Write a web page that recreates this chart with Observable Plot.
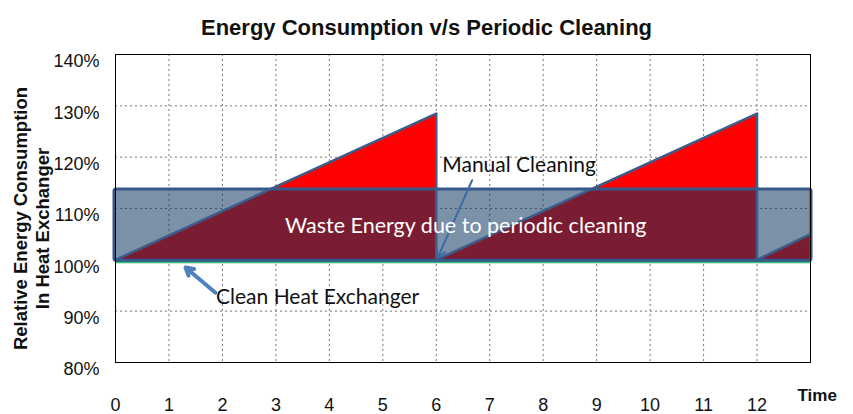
<!DOCTYPE html>
<html>
<head>
<meta charset="utf-8">
<script src="https://cdn.jsdelivr.net/npm/d3@7"></script>
<script src="https://cdn.jsdelivr.net/npm/@observablehq/plot@0.6"></script>
<style>
  html, body { margin: 0; padding: 0; background: #fff; }
  #chart { width: 853px; height: 414px; }
</style>
</head>
<body>
<div id="chart"></div>
<script>
// ---- data ----
const xTicks = [0, 1, 2, 3, 4, 5, 6, 7, 8, 9, 10, 11, 12];
const yTicks = [80, 90, 100, 110, 120, 130, 140];
// sawtooth of fouled energy consumption (time, % relative consumption)
const sawTime = [0, 6, 6, 12, 12, 13];
const sawValue = [100, 128.5, 100, 128.5, 100, 105];
// average energy band with periodic cleaning
const bandStart = [0];
const bandEnd = [13];
const bandLow = [100];
const bandHigh = [113.5];
const baseline = [100];
// annotations
const noteText = ["Waste Energy due to periodic cleaning", "Manual Cleaning", "Clean Heat Exchanger"];
const noteX = [6.55, 7.55, 3.78];
const noteY = [106.5, 118.4, 92.7];
const arrowFromX = [6.67, 1.87];
const arrowFromY = [115.5, 93.6];
const arrowToX = [6.03, 1.31];
const arrowToY = [100.5, 98.5];

const saw = sawTime.map((t, i) => ({t, v: sawValue[i]}));
const band = bandStart.map((s, i) => ({x1: s, x2: bandEnd[i], y1: bandLow[i], y2: bandHigh[i]}));
const notes = noteText.map((s, i) => ({s, x: noteX[i], y: noteY[i]}));
const arrows = arrowFromX.map((x, i) => ({x1: x, y1: arrowFromY[i], x2: arrowToX[i], y2: arrowToY[i]}));

const chart = Plot.plot({
  width: 853,
  height: 414,
  marginLeft: 115,
  marginRight: 43,
  marginTop: 54,
  marginBottom: 52,
  style: {fontFamily: "'Liberation Sans', Arial, sans-serif", background: "#fff", overflow: "visible"},
  x: {domain: [0, 13]},
  y: {domain: [80, 140]},
  marks: [
    Plot.gridX(xTicks.filter(d => d > 0), {stroke: "#777", strokeOpacity: 1, strokeDasharray: "2,3", strokeWidth: 1}),
    Plot.gridY(yTicks.filter(d => d > 80 && d < 140), {stroke: "#777", strokeOpacity: 1, strokeDasharray: "2,3", strokeWidth: 1}),
    Plot.areaY(saw, {x: "t", y1: 100, y2: "v", fill: "#ff0000", curve: "linear"}),
    Plot.ruleY(baseline, {stroke: "#2fb872", strokeWidth: 3, dy: 2}),
    Plot.rect(band, {x1: "x1", x2: "x2", y1: "y1", y2: "y2", fill: "rgb(9,52,93)", fillOpacity: 0.54, stroke: "#36588a", strokeWidth: 3, rx: 2, inset: -1}),
    Plot.line(saw, {x: "t", y: "v", stroke: "#3a5d8c", strokeWidth: 2.5, curve: "linear"}),
    Plot.frame({stroke: "#000", strokeWidth: 1}),
    Plot.axisY({ticks: yTicks, tickFormat: d => d + "%", tickSize: 0, tickPadding: 16, dy: 7, fontSize: 18, fill: "#111", label: null}),
    Plot.axisX({ticks: xTicks, tickFormat: d => String(d), tickSize: 0, tickPadding: 36, fontSize: 18, fill: "#111", label: null}),
    Plot.text(["Time"], {frameAnchor: "bottom-right", dx: -13, dy: 38, textAnchor: "start", fontSize: 17, fontWeight: "bold", fill: "#111"}),
    Plot.text(["Energy Consumption v/s Periodic Cleaning"], {frameAnchor: "top-left", dx: 311, dy: -35, textAnchor: "middle", fontSize: 22, fontWeight: "bold", fill: "#111"}),
    Plot.text(["Relative Energy Consumption"], {frameAnchor: "left", dx: -94, dy: 10, rotate: -90, textAnchor: "middle", fontSize: 18.5, fontWeight: "bold", fill: "#111"}),
    Plot.text(["In Heat Exchanger"], {frameAnchor: "left", dx: -72, dy: 20, rotate: -90, textAnchor: "middle", fontSize: 18.5, fontWeight: "bold", fill: "#111"}),
    Plot.arrow(arrows, {x1: "x1", y1: "y1", x2: "x2", y2: "y2", stroke: (d, i) => i === 0 ? "#3d6aa5" : "#4f81bd", strokeWidth: (d, i) => i === 0 ? 2 : 4, headLength: 13}),
    Plot.text(notes.slice(0, 1), {x: "x", y: "y", text: "s", fill: "#fff", fontSize: 21.5, fontFamily: "Lato, 'Open Sans', sans-serif"}),
    Plot.text(notes.slice(1), {x: "x", y: "y", text: "s", fill: "#111", fontSize: 21, fontFamily: "Lato, 'Open Sans', sans-serif"})
  ]
});
document.getElementById("chart").appendChild(chart);
</script>
</body>
</html>
